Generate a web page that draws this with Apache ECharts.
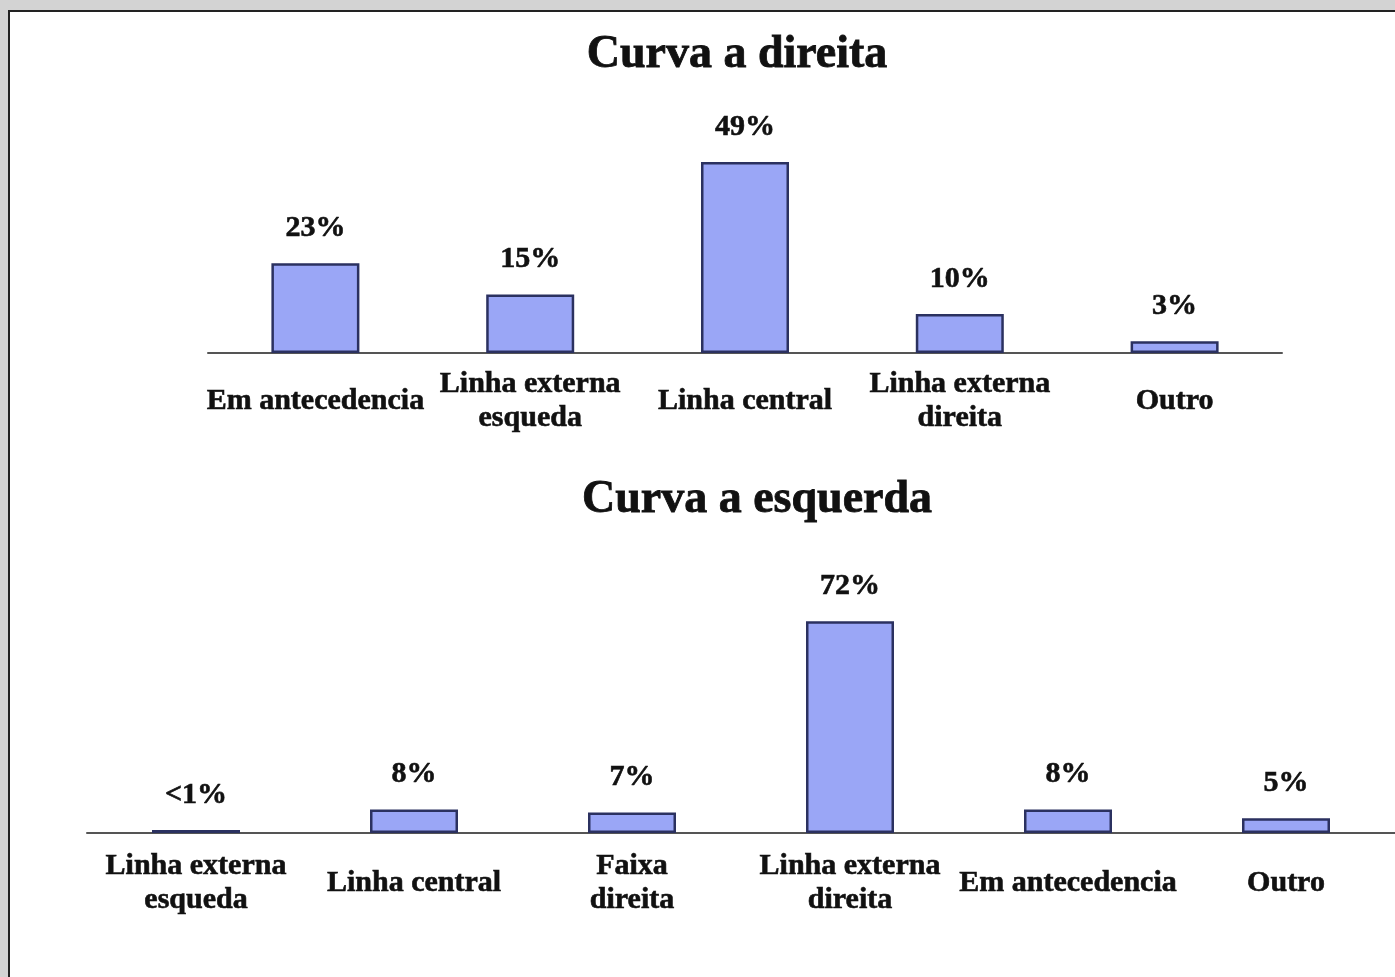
<!DOCTYPE html>
<html>
<head>
<meta charset="utf-8">
<script src="https://cdn.jsdelivr.net/npm/echarts@6/dist/echarts.min.js"></script>
<style>
  html, body { margin: 0; padding: 0; background: #d3d3d3; overflow: hidden; }
  #panel { position: absolute; left: 8px; top: 10px; width: 1400px; height: 980px;
           background: #fff; border-left: 2px solid #222; border-top: 2px solid #222; }
  #main { position: absolute; left: 0; top: 0; width: 1395px; height: 977px; }
</style>
</head>
<body>
<div id="panel"></div>
<div id="main"></div>
<script>
// Curva a direita
var catsDireita = ['Em antecedencia', 'Linha externa\nesqueda', 'Linha central', 'Linha externa\ndireita', 'Outro'];
var valsDireita = [23, 15, 49, 10, 3];
var labsDireita = ['23%', '15%', '49%', '10%', '3%'];
// Curva a esquerda
var catsEsquerda = ['Linha externa\nesqueda', 'Linha central', 'Faixa\ndireita', 'Linha externa\ndireita', 'Em antecedencia', 'Outro'];
var valsEsquerda = [1, 8, 7, 72, 8, 5];
var labsEsquerda = ['<1%', '8%', '7%', '72%', '8%', '5%'];

var serif = "'Liberation Serif', 'DejaVu Serif', serif";

function xAx(idx, cats, margin) {
    return {
        type: 'category',
        gridIndex: idx,
        data: cats,
        axisLine: { lineStyle: { color: '#555', width: 2 } },
        axisTick: { show: false },
        axisLabel: {
            interval: 0,
            margin: margin,
            verticalAlign: 'middle',
            lineHeight: 34,
            color: '#111',
            fontFamily: serif,
            fontWeight: 'bold',
            fontSize: 30,
            textBorderColor: '#111',
            textBorderWidth: 0.6
        }
    };
}

function yAx(idx, max) {
    return {
        type: 'value', gridIndex: idx, min: 0, max: max, show: false,
        splitLine: { show: false }
    };
}

function barSeries(idx, vals, labs) {
    return {
        type: 'bar',
        xAxisIndex: idx,
        yAxisIndex: idx,
        data: vals,
        barWidth: 88,
        itemStyle: { color: '#9aa6f6', borderColor: '#2b3160', borderWidth: 2.5 },
        label: {
            show: true,
            position: 'top',
            distance: 20,
            color: '#111',
            fontFamily: serif,
            fontWeight: 'bold',
            fontSize: 30,
            textBorderColor: '#111',
            textBorderWidth: 0.6,
            formatter: function (p) { return labs[p.dataIndex]; }
        }
    };
}

var myChart = echarts.init(document.getElementById('main'));
var option = {
    backgroundColor: 'transparent',
    animation: false,
    title: [
        { text: 'Curva a direita', left: 732, top: 27, textAlign: 'center',
          textStyle: { fontFamily: serif, fontWeight: 'bold', fontSize: 46, color: '#111',
                       textBorderColor: '#111', textBorderWidth: 0.8 } },
        { text: 'Curva a esquerda', left: 752, top: 472, textAlign: 'center',
          textStyle: { fontFamily: serif, fontWeight: 'bold', fontSize: 46, color: '#111',
                       textBorderColor: '#111', textBorderWidth: 0.8 } }
    ],
    grid: [
        { left: 208, width: 1074, top: 158, height: 195 },
        { left: 87, width: 1310, top: 612.5, height: 220.5 }
    ],
    xAxis: [xAx(0, catsDireita, 48), xAx(1, catsEsquerda, 50)],
    yAxis: [yAx(0, 50), yAx(1, 75)],
    series: [barSeries(0, valsDireita, labsDireita), barSeries(1, valsEsquerda, labsEsquerda)]
};
myChart.setOption(option);
</script>
</body>
</html>
